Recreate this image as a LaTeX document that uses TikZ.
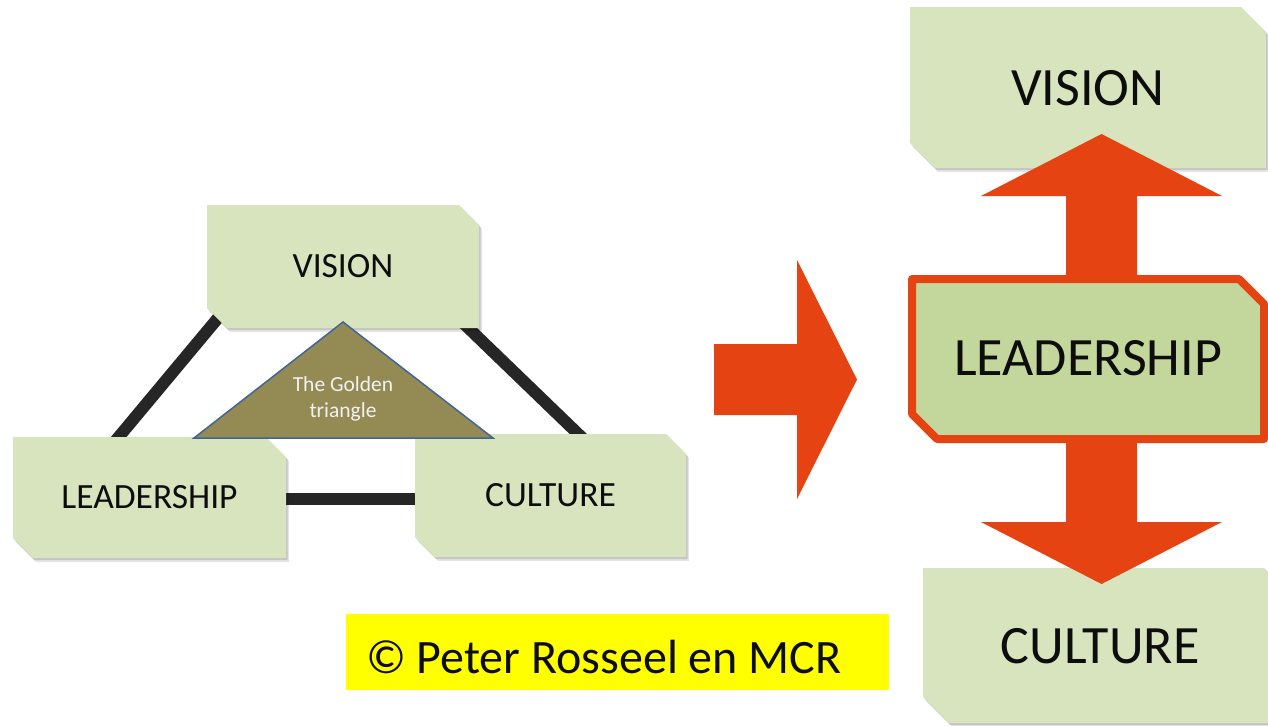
\documentclass[tikz,border=0pt]{standalone}
\usepackage{fontspec}
\setmainfont{Carlito}
\usetikzlibrary{calc}
\definecolor{boxgreen}{RGB}{215,228,189}
\definecolor{leadgreen}{RGB}{195,214,155}
\definecolor{arrowred}{RGB}{230,67,18}
\definecolor{olivefill}{RGB}{148,138,84}
\definecolor{triblue}{RGB}{65,100,155}
\definecolor{linegray}{RGB}{38,38,38}
\definecolor{txtblack}{RGB}{13,13,13}
\definecolor{trilight}{RGB}{242,242,242}
\definecolor{copyyellow}{RGB}{255,255,0}
% snipped-corner box: x1 y1 x2 y2 cut style
\newcommand\snipbox[6]{%
  \begin{scope}[shift={(3,4)}]
    \fill[black,opacity=.10] (#1,#2) -- ({#3-#5},#2) -- (#3,{#2+#5}) -- (#3,#4) -- ({#1+#5},#4) -- (#1,{#4-#5}) -- cycle;
  \end{scope}
  \begin{scope}[shift={(1.5,2)}]
    \fill[black,opacity=.14] (#1,#2) -- ({#3-#5},#2) -- (#3,{#2+#5}) -- (#3,#4) -- ({#1+#5},#4) -- (#1,{#4-#5}) -- cycle;
  \end{scope}
  \path[#6] (#1,#2) -- ({#3-#5},#2) -- (#3,{#2+#5}) -- (#3,#4) -- ({#1+#5},#4) -- (#1,{#4-#5}) -- cycle;
}
\tikzset{
  lbl/.style={inner sep=0pt, outer sep=0pt, text=txtblack},
  smalltxt/.style={lbl, font=\fontsize{35.5}{40}\selectfont},
  bigtxt/.style={lbl, font=\fontsize{54}{60}\selectfont},
  link/.style={draw=linegray, line width=12pt},
  greenbox/.style={fill=boxgreen},
  leadbox/.style={fill=leadgreen, draw=arrowred, line width=8pt, line join=round},
  bigarrow/.style={fill=arrowred},
}
\begin{document}
\begin{tikzpicture}[x=1pt,y=-1pt]
\clip (0,0) rectangle (1268,725);
\fill[white] (0,0) rectangle (1268,725);

% ---------- left: golden triangle ----------
\node[smalltxt, minimum width=272, minimum height=123] (lv) at (343,266.5) {};
\node[smalltxt, minimum width=273, minimum height=121] (ll) at (149.5,497.5) {};
\node[smalltxt, minimum width=271, minimum height=123] (lc) at (550.5,495.5) {};

\draw[link] ([shift={(21,-22)}]lv.south west) -- ([shift={(-35,5)}]ll.north);
\draw[link] ([shift={(-21,-10)}]lv.south east) -- ([shift={(35,7)}]lc.north);
\draw[link] ([shift={(-6,1)}]ll.east) -- ([shift={(6,3)}]lc.west);

\snipbox{207}{205}{479}{328}{20}{greenbox}
\snipbox{13}{437}{286}{558}{20}{greenbox}
\snipbox{415}{434}{686}{557}{20}{greenbox}

\node[smalltxt] at (lv.center) {VISION};
\node[smalltxt] at (ll.center) {LEADERSHIP};
\node[smalltxt] at (lc.center) {CULTURE};

\filldraw[fill=olivefill, draw=triblue, line width=1.5pt, line join=miter] (343,322) -- (493,438) -- (194,438) -- cycle;
\node[inner sep=0pt, text=trilight, align=center, font=\fontsize{21.5}{26}\selectfont] (gt) at (343,398.5) {The Golden\\triangle};

% ---------- middle arrow ----------
\fill[bigarrow] (714,344) -- (797,344) -- (797,260) -- (857,379.5) -- (797,499) -- (797,415) -- (714,415) -- cycle;

% ---------- right column ----------
\snipbox{910}{7}{1266}{168}{25}{greenbox}
\node[bigtxt, minimum width=356, minimum height=161] (rv) at (1088,88.5) {VISION};
\snipbox{923}{568}{1290}{723}{26}{greenbox}
\node[bigtxt, minimum width=367, minimum height=155] (rc) at (1106.5,645.5) {};
\node[bigtxt] at (1100,646.5) {CULTURE};

\fill[bigarrow] (1101.5,134) -- (1222,196) -- (1137,196) -- (1137,522) -- (1222,522) -- (1101.5,584)
  -- (981,522) -- (1066,522) -- (1066,196) -- (981,196) -- cycle;

\snipbox{912}{279}{1264}{439}{25}{leadbox}
\node[bigtxt, minimum width=352, minimum height=160] (rl) at (1088,358.5) {LEADERSHIP};

% ---------- copyright ----------
\node[fill=copyyellow, minimum width=543, minimum height=76, inner sep=0pt] (cr) at (617.5,652) {};
\node[lbl, anchor=base west, font=\fontsize{48}{52}\selectfont] (crt) at (366,673) {© Peter Rosseel en MCR};
\end{tikzpicture}
\end{document}
